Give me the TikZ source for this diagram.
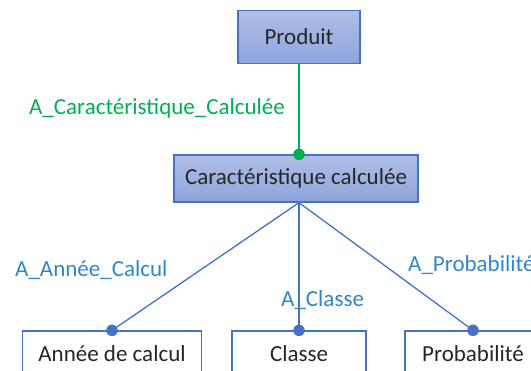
\documentclass[tikz,border=0pt]{standalone}
\usepackage{fontspec}
\setmainfont{Carlito}
\usepackage{xcolor}
\usepackage{tikz}

\definecolor{boxline}{RGB}{68,114,196}
\definecolor{boxtop}{RGB}{176,190,231}
\definecolor{boxbottom}{RGB}{141,164,219}
\definecolor{linkgreen}{RGB}{0,176,80}
\definecolor{linkblue}{RGB}{46,134,204}
\definecolor{textdark}{RGB}{38,38,38}

\tikzset{
  entity/.style={draw=boxline,line width=1.3pt,top color=boxtop,bottom color=boxbottom,
    text=textdark,inner sep=0pt,font=\fontsize{23}{26}\selectfont},
  attribute/.style={draw=boxline,line width=1.3pt,fill=white,
    text=textdark,inner sep=0pt,font=\fontsize{23}{26}\selectfont},
  linklabel/.style={inner sep=0pt,font=\fontsize{23}{26}\selectfont},
  dot/.style={circle,inner sep=0pt,minimum size=11.5pt}
}

\begin{document}
\begin{tikzpicture}[x=1pt,y=-1pt]
            \useasboundingbox (0,0) rectangle (531,371);

            % Nodes
            \node[entity,minimum width=122pt,minimum height=53pt] (produit) at (299,37) {Produit};
            \node[entity,minimum width=244pt,minimum height=47pt] (carac) at (296,178.5) {Caractéristique calculée};
            \node[attribute,minimum width=179pt,minimum height=46pt] (annee) at (112,354) {Année de calcul};
            \node[attribute,minimum width=134pt,minimum height=46pt] (classe) at (299,354) {Classe};
            \node[attribute,minimum width=136pt,minimum height=46pt] (proba) at (473,354) {Probabilité};

            \coordinate (haut) at (produit.south |- carac.north);
            \coordinate (bas) at (produit.south |- carac.south);

            % Edges
            \draw[linkgreen,line width=1.3pt] (produit.south) -- (haut);
            \node[dot,fill=linkgreen] (dcarac) at (haut) {};
            \draw[boxline,line width=1.3pt] (bas) -- (annee.north);
            \draw[boxline,line width=1.3pt] (bas) -- (classe.north);
            \draw[boxline,line width=1.3pt] (bas) -- (proba.north);
            \node[dot,fill=boxline] (dannee) at (annee.north) {};
            \node[dot,fill=boxline] (dclasse) at (classe.north) {};
            \node[dot,fill=boxline] (dproba) at (proba.north) {};

            % Labels
            \node[linklabel,text=linkgreen] (lcarac) at (157,108) {A\_Caractéristique\_Calculée};
            \node[linklabel,text=linkblue,anchor=west] (lannee) at (15,270) {A\_Année\_Calcul};
            \node[linklabel,text=linkblue,anchor=west] (lclasse) at (281,300) {A\_Classe};
            \node[linklabel,text=linkblue,anchor=west] (lproba) at (408,265) {A\_Probabilité};
        \end{tikzpicture}
\end{document}
